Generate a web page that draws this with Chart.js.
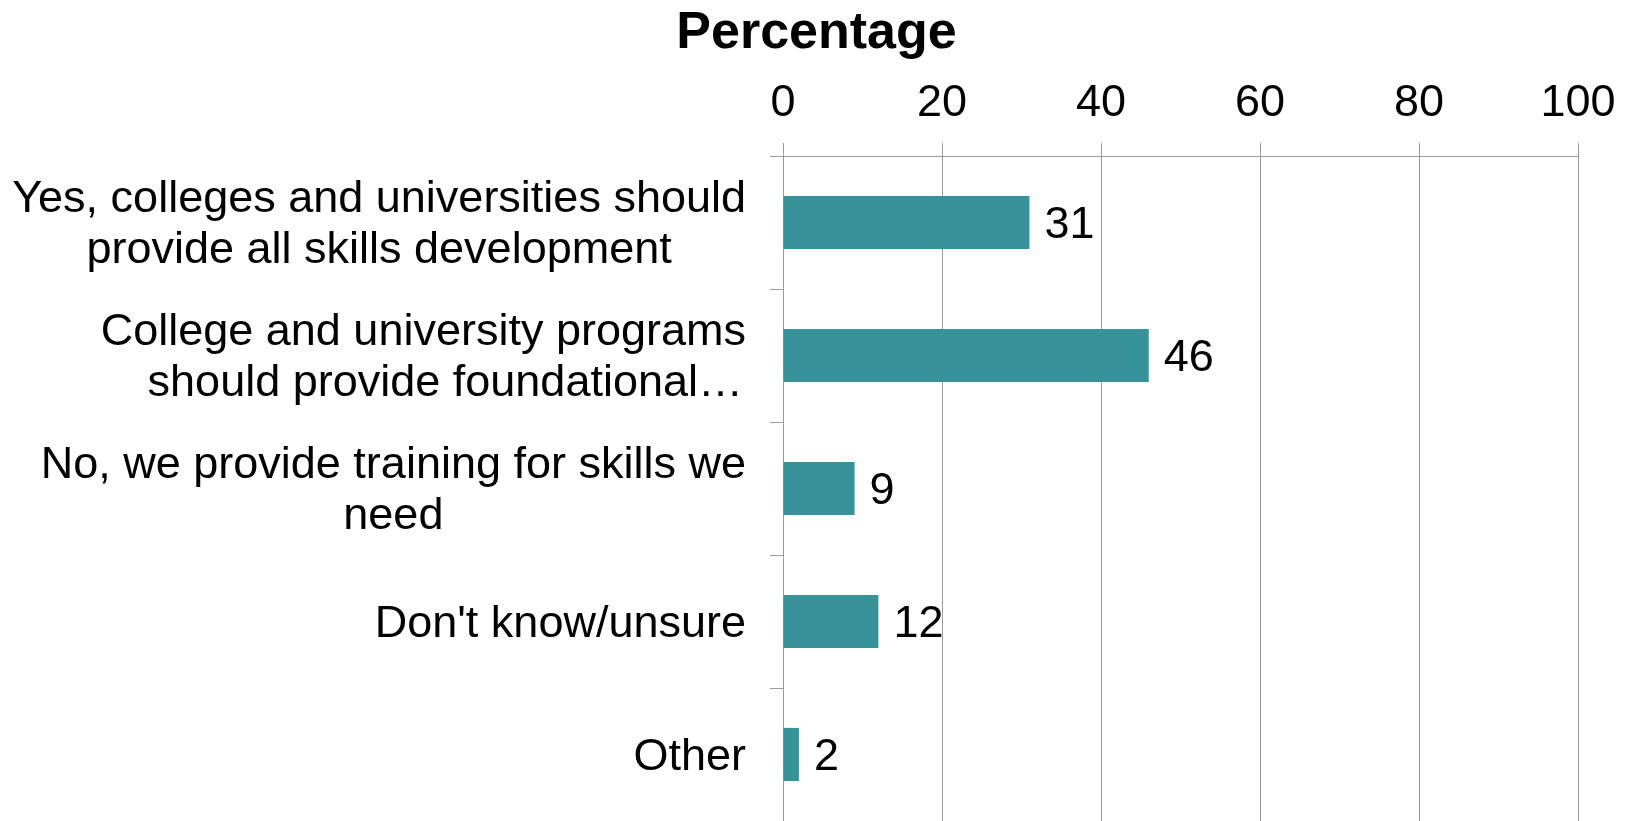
<!DOCTYPE html>
<html>
<head>
<meta charset="utf-8">
<title>Percentage</title>
<script src="https://cdn.jsdelivr.net/npm/chart.js@4/dist/chart.umd.min.js"></script>
<style>
    html, body { margin: 0; padding: 0; background: #fff; }
    #grafico { display: block; }
</style>
</head>
<body>
<canvas id="grafico" width="1633" height="821"></canvas>
<script>
// respuestas de la encuesta
const categorias = [
    ['Yes, colleges and universities should', 'provide all skills development'],
    ['College and university programs', 'should provide foundational\u2026'],
    ['No, we provide training for skills we', 'need'],
    "Don't know/unsure",
    'Other'
];
const porcentajes = [31, 46, 9, 12, 2];
const ticksX = [0, 20, 40, 60, 80, 100];

const fuente = "'Liberation Sans', Arial, Helvetica, sans-serif";
const colorBarra = '#37929a';
const colorLinea = '#9c9c9c';
const altoLinea = 51;
const ajusteTexto = 3; // 'middle' queda un poco alto con esta fuente

// escribe el valor al final de cada barra
const etiquetasValor = {
    id: 'etiquetasValor',
    afterDatasetsDraw(chart) {
        const ctx = chart.ctx;
        const meta = chart.getDatasetMeta(0);
        ctx.save();
        ctx.font = '45px ' + fuente;
        ctx.fillStyle = '#000';
        ctx.textAlign = 'left';
        ctx.textBaseline = 'middle';
        meta.data.forEach((barra, i) => {
            ctx.fillText(String(porcentajes[i]), barra.x + 15, barra.y + ajusteTexto);
        });
        ctx.restore();
    }
};

// etiquetas del eje y: bloque alineado a la derecha, lineas centradas entre si
// (una linea recortada con '…' se pega al borde derecho)
const etiquetasEjeY = {
    id: 'etiquetasEjeY',
    afterDraw(chart) {
        const ctx = chart.ctx;
        const escala = chart.scales.y;
        const derecha = escala.right - 13 - 24;
        ctx.save();
        ctx.font = '45px ' + fuente;
        ctx.fillStyle = '#000';
        ctx.textBaseline = 'middle';
        categorias.forEach((cat, i) => {
            const lineas = Array.isArray(cat) ? cat : [cat];
            const ancho = Math.max(...lineas.map(l => ctx.measureText(l).width));
            const y = escala.getPixelForTick(i) + ajusteTexto;
            lineas.forEach((linea, j) => {
                const ly = y + (j - (lineas.length - 1) / 2) * altoLinea;
                if (linea.endsWith('\u2026')) {
                    ctx.textAlign = 'right';
                    ctx.fillText(linea, derecha - 3, ly);
                } else {
                    ctx.textAlign = 'center';
                    ctx.fillText(linea, derecha - ancho / 2, ly);
                }
            });
        });
        ctx.restore();
    }
};

const ctx = document.getElementById('grafico').getContext('2d');
new Chart(ctx, {
    type: 'bar',
    data: {
        labels: categorias,
        datasets: [{
            data: porcentajes,
            backgroundColor: colorBarra,
            borderWidth: 0,
            barPercentage: 0.4,
            categoryPercentage: 1
        }]
    },
    options: {
        indexAxis: 'y',
        responsive: false,
        animation: false,
        layout: {
            padding: { top: 0, right: 55, bottom: -2, left: 55 }
        },
        plugins: {
            legend: { display: false },
            tooltip: { enabled: false },
            title: {
                display: true,
                text: 'Percentage',
                color: '#000',
                padding: { top: 2, bottom: 0 },
                font: { family: fuente, size: 52, weight: 'bold', lineHeight: 1.2 }
            }
        },
        scales: {
            x: {
                position: 'top',
                min: 0,
                max: 100,
                afterBuildTicks: (scale) => {
                    scale.ticks = ticksX.map(v => ({ value: v }));
                },
                afterFit: (scale) => {
                    scale.height = 91.6;
                },
                grid: {
                    color: colorLinea,
                    lineWidth: 1,
                    drawTicks: true,
                    tickLength: 13
                },
                border: { display: true, color: colorLinea, width: 1 },
                ticks: {
                    color: '#000',
                    padding: 12,
                    maxRotation: 0,
                    font: { family: fuente, size: 45 }
                }
            },
            y: {
                afterFit: (scale) => {
                    scale.width = 728;
                    scale.paddingTop = 0;
                    scale.paddingBottom = 0;
                },
                grid: {
                    offset: true,
                    drawOnChartArea: false,
                    drawTicks: true,
                    tickLength: 13,
                    color: colorLinea,
                    lineWidth: 1
                },
                border: { display: true, color: colorLinea, width: 1 },
                ticks: {
                    display: false,
                    autoSkip: false
                }
            }
        }
    },
    plugins: [etiquetasValor, etiquetasEjeY]
});
</script>
</body>
</html>
